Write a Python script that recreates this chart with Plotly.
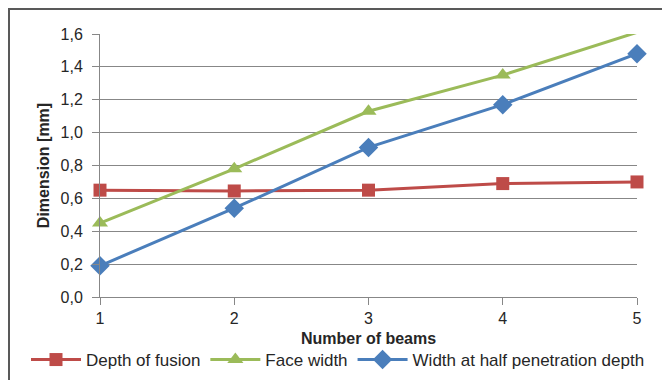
import plotly.graph_objects as go

beams = [1, 2, 3, 4, 5]
depth_of_fusion = [0.65, 0.645, 0.65, 0.69, 0.70]
face_width = [0.45, 0.78, 1.13, 1.35, 1.61]
width_half_depth = [0.19, 0.54, 0.91, 1.17, 1.48]

# page body has an 8px margin, so the figure is sized/positioned to compensate
W, H = 662, 372
L, R, T, B = 92, 33, 26, 83
pw, ph = W - L - R, H - T - B

fig = go.Figure()
series = [
    ("Depth of fusion", depth_of_fusion, "#BE4B48", "square", 13),
    ("Face width", face_width, "#9BBB59", "triangle-up", 14),
    ("Width at half penetration depth", width_half_depth, "#4A7EBB", "diamond", 15),
]
for name, vals, col, sym, sz in series:
    fig.add_trace(go.Scatter(
        x=beams, y=vals, name=name, mode="lines+markers",
        line=dict(color=col, width=3),
        marker=dict(symbol=sym, size=sz, color=col),
        cliponaxis=False,
    ))

FONT = "Liberation Sans, Arial, sans-serif"
fig.update_layout(
    width=W, height=H,
    margin=dict(l=L, r=R, t=T, b=B, autoexpand=False),
    paper_bgcolor="white", plot_bgcolor="white",
    separators=",.",
    font=dict(family=FONT, size=16, color="#262626"),
    showlegend=True,
    legend=dict(orientation="h", x=(18 - L) / pw, xanchor="left",
                y=-(352 - (T + ph)) / ph, yanchor="middle",
                font=dict(size=17), itemwidth=50, tracegroupgap=0,
                bgcolor="rgba(0,0,0,0)"),
    xaxis=dict(
        range=[1, 5], tickvals=beams, ticks="outside", ticklen=7, tickcolor="#878787",
        showgrid=False, showline=True, linecolor="#878787", linewidth=1,
        zeroline=False, tickfont=dict(size=16), ticklabelstandoff=0,
    ),
    yaxis=dict(
        range=[0, 1.6], dtick=0.2, tickformat=".1f", ticks="outside", ticklen=7,
        tickcolor="#878787", showgrid=True, gridcolor="#878787", gridwidth=1,
        showline=True, linecolor="#878787", linewidth=1, zeroline=False,
        tickfont=dict(size=16), ticklabelstandoff=6,
        title=dict(text="<b>Dimension [mm]</b>", font=dict(size=16), standoff=6),
    ),
    annotations=[dict(
        text="<b>Number of beams</b>", xref="paper", yref="paper",
        x=0.5, y=-(330 - (T + ph)) / ph, xanchor="center", yanchor="middle",
        showarrow=False, font=dict(size=16),
    )],
    shapes=[dict(
        type="rect", xref="paper", yref="paper",
        x0=(1 - L) / pw, x1=(W + 20 - L) / pw,
        y0=-(H + 20 - (T + ph)) / ph, y1=(T + ph - 1) / ph,
        line=dict(color="#595959", width=2), fillcolor="rgba(0,0,0,0)", layer="below",
    )],
)

fig.write_html("out.html")
